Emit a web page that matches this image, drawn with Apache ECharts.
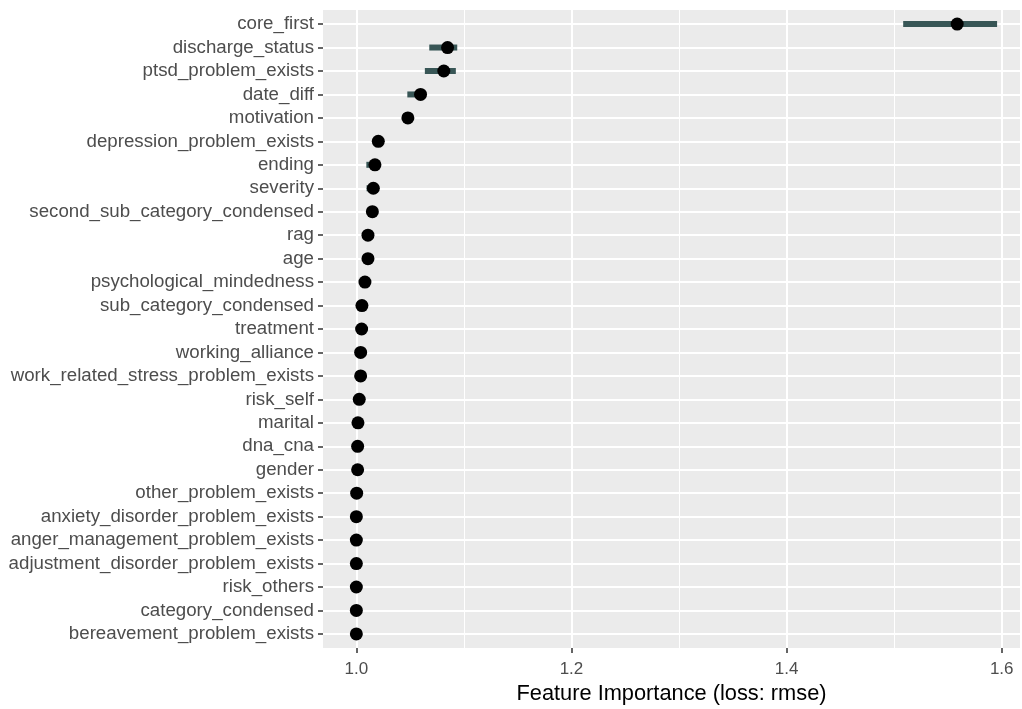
<!DOCTYPE html>
<html>
<head>
<meta charset="utf-8">
<script src="https://cdn.jsdelivr.net/npm/echarts@6/dist/echarts.min.js"></script>
<style>
html,body{margin:0;padding:0;background:#fff;}
#chart{width:1022px;height:709px;}
</style>
</head>
<body>
<div id="chart"></div>
<script>
const features = [
  "core_first","discharge_status","ptsd_problem_exists","date_diff","motivation",
  "depression_problem_exists","ending","severity","second_sub_category_condensed","rag",
  "age","psychological_mindedness","sub_category_condensed","treatment","working_alliance",
  "work_related_stress_problem_exists","risk_self","marital","dna_cna","gender",
  "other_problem_exists","anxiety_disorder_problem_exists","anger_management_problem_exists",
  "adjustment_disorder_problem_exists","risk_others","category_condensed","bereavement_problem_exists"
];
const importance = [
  1.5586,1.0848,1.0813,1.0597,1.0479,
  1.0204,1.0173,1.0158,1.0149,1.0108,
  1.0108,1.0080,1.0052,1.0049,1.0040,
  1.0040,1.0027,1.0015,1.0012,1.0012,
  1.0003,1.0000,1.0000,1.0000,1.0000,1.0000,1.0000
];
const lowerBound = [
  1.5084,1.0678,1.0637,1.0474,1.0450,
  1.0180,1.0093,1.0095,1.0125,1.0090,
  1.0090,1.0062,1.0035,1.0032,1.0025,
  1.0025,1.0012,1.0002,1.0000,1.0000,
  0.9995,0.9992,0.9993,0.9993,0.9994,0.9994,0.9995
];
const upperBound = [
  1.5957,1.0938,1.0925,1.0640,1.0510,
  1.0230,1.0200,1.0180,1.0170,1.0125,
  1.0125,1.0098,1.0070,1.0066,1.0055,
  1.0055,1.0042,1.0030,1.0026,1.0026,
  1.0012,1.0008,1.0007,1.0007,1.0006,1.0006,1.0005
];
const xMajorTicks = [1.0, 1.2, 1.4, 1.6];
const xMinorTicks = [1.1, 1.3, 1.5];
const xTitle = "Feature Importance (loss: rmse)";

const FONT = "'Liberation Sans', Arial, sans-serif";
const idx = features.map((_, i) => i);

const pointData = importance.map((v, i) => [v, i]);
const barData = lowerBound.map((lo, i) => [lo, upperBound[i], i]);

const chart = echarts.init(document.getElementById('chart'), null, {renderer: 'canvas'});
chart.setOption({
  animation: false,
  backgroundColor: '#ffffff',
  textStyle: {fontFamily: FONT},
  grid: {
    left: 323, right: 2, top: 10, bottom: 61,
    containLabel: false, outerBoundsMode: 'none',
    show: true, backgroundColor: '#EBEBEB', borderWidth: 0
  },
  xAxis: {
    type: 'value',
    min: 0.969, max: 1.617,
    axisLine: {show: false, onZero: false},
    axisTick: {show: true, length: 5, lineStyle: {color: '#333333', width: 1.5}, customValues: xMajorTicks},
    axisLabel: {
      customValues: xMajorTicks, color: '#4D4D4D', fontSize: 17, margin: 13,
      fontFamily: FONT, formatter: v => v.toFixed(1)
    },
    splitLine: {show: true, lineStyle: {color: '#ffffff', width: 2}},
    name: xTitle, nameLocation: 'middle', nameGap: 35,
    nameTextStyle: {color: '#000000', fontSize: 21.8, fontFamily: FONT}
  },
  yAxis: {
    type: 'value',
    inverse: true,
    min: -0.6, max: features.length - 1 + 0.6,
    axisLine: {show: false, onZero: false},
    axisTick: {show: true, length: 5, lineStyle: {color: '#333333', width: 1.5}, customValues: idx},
    axisLabel: {
      customValues: idx, color: '#4D4D4D', fontSize: 18.7, margin: 9,
      fontFamily: FONT, formatter: v => features[Math.round(v)]
    },
    splitLine: {show: true, lineStyle: {color: '#ffffff', width: 2}}
  },
  series: [
    {
      type: 'line',
      data: [],
      silent: true,
      markLine: {
        silent: true, symbol: 'none', label: {show: false},
        lineStyle: {color: '#ffffff', width: 1, type: 'solid'},
        data: xMinorTicks.map(v => ({xAxis: v}))
      },
      z: 1
    },
    {
      type: 'custom',
      data: barData,
      z: 2,
      renderItem: function (params, api) {
        const p1 = api.coord([api.value(0), api.value(2)]);
        const p2 = api.coord([api.value(1), api.value(2)]);
        return {
          type: 'line',
          shape: {x1: p1[0], y1: p1[1], x2: p2[0], y2: p2[1]},
          style: {stroke: '#385656', lineWidth: 6}
        };
      }
    },
    {
      type: 'scatter',
      data: pointData,
      symbol: 'circle',
      symbolSize: 13,
      itemStyle: {color: '#000000', opacity: 1},
      z: 3
    }
  ]
});
</script>
</body>
</html>
